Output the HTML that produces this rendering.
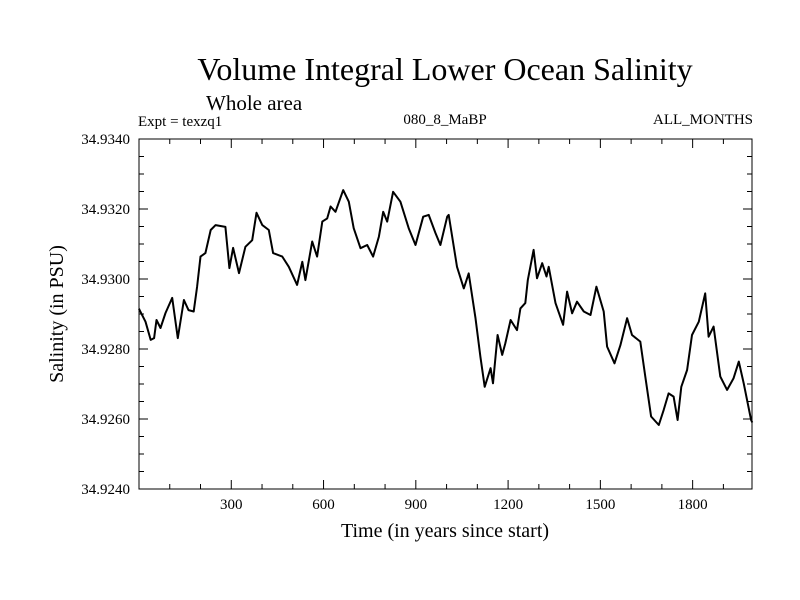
<!DOCTYPE html>
<html><head><meta charset="utf-8"><style>
body{margin:0;background:#fff;}
svg{display:block;font-family:"Liberation Serif",serif;}
</style></head><body>
<svg id="chart" width="800" height="600">
<text x="445" y="80" font-size="32" text-anchor="middle">Volume Integral Lower Ocean Salinity</text>
<text x="206" y="110" font-size="21">Whole area</text>
<text x="138" y="126" font-size="15">Expt = texzq1</text>
<text x="445" y="124" font-size="15" text-anchor="middle">080_8_MaBP</text>
<text x="753" y="124" font-size="15" text-anchor="end">ALL_MONTHS</text>
<text x="445" y="537" font-size="20" text-anchor="middle">Time (in years since start)</text>
<text transform="translate(63,314) rotate(-90)" font-size="20" text-anchor="middle">Salinity (in PSU)</text>
<g id="axes"></g>
<rect x="139" y="139" width="613" height="350" fill="none" stroke="#000" stroke-width="1"/>
</svg>
<script>
const years=[0,2,21,38,49,57,70,86,108,126,146,161,178,189,200,216,233,249,281,294,306,325,346,368,382,401,422,436,466,487,514,531,541,563,579,596,612,623,639,664,682,698,720,742,761,780,794,807,826,850,877,899,924,942,964,980,1002,1007,1034,1056,1072,1094,1110,1124,1143,1151,1166,1181,1191,1208,1229,1240,1256,1264,1283,1294,1311,1325,1332,1354,1379,1392,1408,1424,1446,1468,1487,1511,1522,1546,1565,1587,1603,1630,1646,1665,1690,1706,1722,1738,1751,1763,1782,1798,1820,1841,1852,1868,1890,1912,1933,1950,1966,1990,1994];
const salinity=[34.92915,34.92911,34.92878,34.92826,34.92831,34.92883,34.92860,34.92903,34.92946,34.92831,34.92940,34.92911,34.92907,34.92978,34.93064,34.93074,34.93140,34.93154,34.93149,34.93031,34.93089,34.93017,34.93092,34.93111,34.93189,34.93154,34.93140,34.93074,34.93064,34.93035,34.92983,34.93049,34.92997,34.93107,34.93064,34.93164,34.93173,34.93207,34.93192,34.93254,34.93221,34.93145,34.93088,34.93097,34.93064,34.93121,34.93192,34.93164,34.93249,34.93221,34.93145,34.93097,34.93178,34.93183,34.93131,34.93097,34.93178,34.93183,34.93035,34.92973,34.93016,34.92888,34.92778,34.92692,34.92745,34.92702,34.92840,34.92783,34.92816,34.92883,34.92854,34.92916,34.92931,34.92997,34.93083,34.93002,34.93045,34.93007,34.93035,34.92931,34.92869,34.92964,34.92902,34.92935,34.92907,34.92897,34.92978,34.92907,34.92807,34.92759,34.92811,34.92888,34.92840,34.92821,34.92721,34.92607,34.92583,34.92626,34.92673,34.92664,34.92597,34.92692,34.92740,34.92840,34.92878,34.92959,34.92835,34.92864,34.92721,34.92683,34.92716,34.92764,34.92702,34.92597,34.92590];
const xTickLabels=[300,600,900,1200,1500,1800];
const yTickLabels=["34.9240","34.9260","34.9280","34.9300","34.9320","34.9340"];
const X0=139,X1=752,Y0=489,Y1=139,XMAX=1993,YMIN=34.924,YMAX=34.934;
function xs(v){return X0+(v/XMAX)*(X1-X0);}
function ys(v){return Y0-(v-YMIN)/(YMAX-YMIN)*(Y0-Y1);}
const NS="http://www.w3.org/2000/svg";
const g=document.getElementById('axes');
function ln(x1,y1,x2,y2,name){const l=document.createElementNS(NS,'line');l.setAttribute('x1',x1);l.setAttribute('y1',y1);l.setAttribute('x2',x2);l.setAttribute('y2',y2);l.setAttribute('stroke','#000');


g.appendChild(l);}
for(let t=100;t<XMAX;t+=100){const x=xs(t);const L=(t%300===0)?9:5;ln(x,Y0,x,Y0-L,'x-tick');ln(x,Y1,x,Y1+L,'x-tick-top');}
for(let i=1;i<20;i++){const v=YMIN+i*0.0005;const y=ys(v);const L=(i%4===0)?9:5;ln(X0,y,X0+L,y,'y-tick');ln(X1,y,X1-L,y,'y-tick-right');}
xTickLabels.forEach(t=>{const tx=document.createElementNS(NS,'text');tx.setAttribute('x',xs(t));tx.setAttribute('y',Y0+20);tx.setAttribute('font-size','15');tx.setAttribute('text-anchor','middle');tx.textContent=t;


g.appendChild(tx);});
yTickLabels.forEach(s=>{const tx=document.createElementNS(NS,'text');tx.setAttribute('x',X0-9);tx.setAttribute('y',ys(parseFloat(s))+5);tx.setAttribute('font-size','15');tx.setAttribute('text-anchor','end');tx.textContent=s;


g.appendChild(tx);});
const p=document.createElementNS(NS,'polyline');
p.setAttribute('points',years.map((t,i)=>xs(t).toFixed(1)+','+ys(salinity[i]).toFixed(1)).join(' '));
p.setAttribute('fill','none');p.setAttribute('stroke','#000');p.setAttribute('stroke-width','2');p.setAttribute('stroke-linejoin','round');


g.appendChild(p);
</script>
</body></html>
